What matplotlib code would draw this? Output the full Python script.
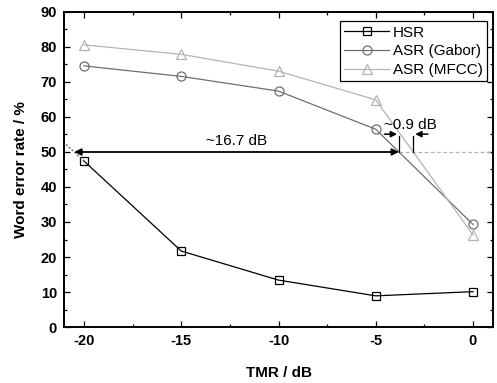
#! /usr/bin/env python
#-*- coding:utf-8 -*-

import numpy as np
from matplotlib import pyplot as plt

plt.rcParams.update({
  "font.family": 'sans-serif',
  "font.sans-serif": ['Liberation Sans', 'DejaVu Sans'],
  "axes.unicode_minus": False,
  "xtick.direction": 'in',
  "ytick.direction": 'in',
  "xtick.top": True,
  "ytick.right": True,
  "xtick.minor.visible": True,
  "ytick.minor.visible": True,
})

tmr = [-20, -15, -10, -5, 0]
hsr = [47.4, 21.7, 13.4, 8.9, 10.1]
asr_gabor = [74.6, 71.6, 67.4, 56.5, 29.3]
asr_mfcc = [80.6, 77.9, 73.1, 64.9, 26.3]
threshold = 50.0

fig = plt.figure(figsize=(4.97, 3.83), dpi=100)
ax = fig.add_axes([0.1288, 0.1462, 0.8632, 0.8225])

ax.plot(tmr, hsr, color='black', lw=0.9, marker='s', ms=5.5, mfc='none',
        mec='black', mew=0.9, label='HSR')
ax.plot(tmr, asr_gabor, color='#6e6e6e', lw=0.9, marker='o', ms=6.5, mfc='none',
        mec='#6e6e6e', mew=0.9, label='ASR (Gabor)')
ax.plot(tmr, asr_mfcc, color='#b4b4b4', lw=0.9, marker='^', ms=7.5, mfc='none',
        mec='#b4b4b4', mew=0.9, label='ASR (MFCC)')

# 50 % crossing points (lines are falling, so reverse for interp)
x_gabor = np.interp(threshold, asr_gabor[::-1], tmr[::-1])
x_mfcc = np.interp(threshold, asr_mfcc[::-1], tmr[::-1])
slope = (hsr[1] - hsr[0]) / (tmr[1] - tmr[0])
x_hsr = tmr[0] + (threshold - hsr[0]) / slope

# dotted extrapolation of HSR
ax.plot([tmr[0], tmr[0] - 1.0], [hsr[0], hsr[0] - slope * 1.0],
        ls=(0, (1.5, 1.5)), color='#555555', lw=0.9)

# dashed continuation at 50 %
ax.plot([x_gabor, 1.05], [threshold, threshold], ls=(0, (3, 2)),
        color='#b4b4b4', lw=0.9)

ax.annotate('', xy=(x_hsr, threshold), xytext=(x_gabor, threshold),
            arrowprops=dict(arrowstyle='<|-|>', color='black', lw=1.3,
                            mutation_scale=10, shrinkA=0, shrinkB=0))
ax.text((x_hsr + x_gabor) / 2, threshold + 1.2, '~16.7 dB', ha='center',
        va='bottom', fontsize=11)

ax.plot([x_gabor, x_gabor], [threshold, 54.6], color='black', lw=0.9)
ax.plot([x_mfcc, x_mfcc], [threshold, 54.6], color='black', lw=0.9)
ax.annotate('', xy=(x_gabor - 0.1, 55.1), xytext=(x_gabor - 0.75, 55.1),
            arrowprops=dict(arrowstyle='-|>', color='black', lw=1.1,
                            mutation_scale=9, shrinkA=0, shrinkB=0))
ax.annotate('', xy=(x_mfcc + 0.1, 55.1), xytext=(x_mfcc + 0.75, 55.1),
            arrowprops=dict(arrowstyle='-|>', color='black', lw=1.1,
                            mutation_scale=9, shrinkA=0, shrinkB=0))
ax.text(x_gabor - 0.75, 57.6, '~0.9 dB', ha='left', va='center',
        fontsize=11)

ax.set_xlim(-21.03, 1.03)
ax.set_ylim(0, 90)
ax.set_xticks(tmr)
ax.set_xticks([-17.5, -12.5, -7.5, -2.5], minor=True)
ax.set_yticks(range(0, 91, 10))
ax.set_yticks(range(5, 90, 10), minor=True)
ax.tick_params(which='major', length=4, width=0.9)
ax.tick_params(which='minor', length=2.5, width=0.9)
ax.tick_params(labelsize=10.5, pad=5)
for lbl in ax.get_xticklabels() + ax.get_yticklabels():
    lbl.set_fontweight('bold')
for sp in ax.spines.values():
    sp.set_linewidth(1.4)

ax.set_xlabel('TMR / dB', fontsize=11, fontweight='bold', labelpad=13)
ax.set_ylabel('Word error rate / %', fontsize=11, fontweight='bold', labelpad=9)

leg = ax.legend(loc='upper right', fontsize=11, frameon=True, fancybox=False,
                edgecolor='black', framealpha=1, borderpad=0.3,
                labelspacing=0.3, handlelength=2.9, handletextpad=0.25,
                borderaxespad=0.0, bbox_to_anchor=(0.986, 0.971))
leg.get_frame().set_linewidth(0.9)

fig.savefig('out.png', dpi=100)
